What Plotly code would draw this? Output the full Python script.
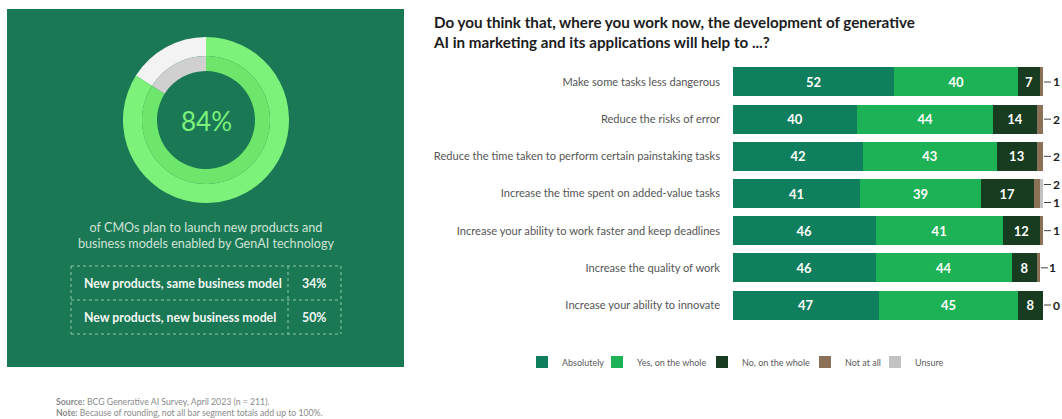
import plotly.graph_objects as go

W, H = 1062, 419

# ---------------- data ----------------
categories = [
    "Make some tasks less dangerous",
    "Reduce the risks of error",
    "Reduce the time taken to perform certain painstaking tasks",
    "Increase the time spent on added-value tasks",
    "Increase your ability to work faster and keep deadlines",
    "Increase the quality of work",
    "Increase your ability to innovate",
]
absolutely = [52, 40, 42, 41, 46, 46, 47]
yes_whole = [40, 44, 43, 39, 41, 44, 45]
no_whole = [7, 14, 13, 17, 12, 8, 8]
not_at_all = [1, 2, 2, 2, 1, 1, 0]
unsure = [0, 0, 0, 1, 0, 0, 0]
series_names = ["Absolutely", "Yes, on the whole", "No, on the whole", "Not at all", "Unsure"]
series_colors = ["#0f7f5d", "#1eb257", "#173c20", "#8a7157", "#c2c2c2"]

donut_values = [84, 16]
donut_headline = "84%"
donut_caption = "of CMOs plan to launch new products and<br>business models enabled by GenAI technology"
table_labels = ["New products, same business model", "New products, new business model"]
table_values = ["34%", "50%"]

title_text = ("Do you think that, where you work now, the development of generative<br>"
              "AI in marketing and its applications will help to ...?")
source_text = ("<b>Source:</b> BCG Generative AI Survey, April 2023 (n = 211).<br>"
               "<b>Note:</b> Because of rounding, not all bar segment totals add up to 100%.")

FONT = "Lato"


def px(x):
    return x / W


def py(y):
    return 1 - y / H


fig = go.Figure()

# ---------------- stacked bars ----------------
legend_ids = ["legend", "legend2", "legend3", "legend4", "legend5"]
legend_symbol_x = [537, 612, 717, 820, 890]
series = [absolutely, yes_whole, no_whole, not_at_all, unsure]
for i, (name, vals, col) in enumerate(zip(series_names, series, series_colors)):
    show_text = i < 3
    fig.add_trace(go.Bar(
        name=name, y=categories, x=vals, orientation="h",
        marker=dict(color=col, line=dict(width=0)),
        width=0.78,
        text=[str(v) for v in vals] if show_text else None,
        textposition="inside" if show_text else "none",
        insidetextanchor="middle",
        textangle=0,
        constraintext="none",
        textfont=dict(family=FONT, size=13, color="white", weight="bold"),
        hoverinfo="skip",
        legend=legend_ids[i],
    ))

# ---------------- donut ----------------
cx, cy, r_out, r_mid, r_in = 206, 120, 83, 64, 49
fig.add_trace(go.Pie(
    values=donut_values, sort=False, direction="clockwise", rotation=0,
    hole=r_mid / r_out, textinfo="none", hoverinfo="skip", showlegend=False,
    marker=dict(colors=["#7cf27a", "#f3f3f3"], line=dict(width=0)),
    domain=dict(x=[px(cx - r_out), px(cx + r_out)], y=[py(cy + r_out), py(cy - r_out)]),
))
fig.add_trace(go.Pie(
    values=donut_values, sort=False, direction="clockwise", rotation=0,
    hole=r_in / r_mid, textinfo="none", hoverinfo="skip", showlegend=False,
    marker=dict(colors=["#6ee66b", "#d0d0d0"], line=dict(width=0)),
    domain=dict(x=[px(cx - r_mid), px(cx + r_mid)], y=[py(cy + r_mid), py(cy - r_mid)]),
))

shapes = []
annotations = []

# left panel background
shapes.append(dict(type="rect", xref="paper", yref="paper", x0=px(7), x1=px(404),
                   y0=py(367), y1=py(9), fillcolor="#1a7855", line=dict(width=0), layer="below"))

annotations.append(dict(xref="paper", yref="paper", x=px(cx), y=py(cy + 1), text=donut_headline,
                        showarrow=False, font=dict(family=FONT, size=26, color="#7cf27a"),
                        xanchor="center", yanchor="middle"))
annotations.append(dict(xref="paper", yref="paper", x=px(206), y=py(235), text=donut_caption,
                        showarrow=False, font=dict(family=FONT, size=12.6, color="#cfe3d7"),
                        xanchor="center", yanchor="middle", align="center"))

# table with dotted borders
tl, tr, tt, tb, tdiv, tmid = 71, 341, 266, 334, 288, 300
dot = dict(color="#8fcaa8", width=1, dash="dot")
for (x0, y0, x1, y1) in [(tl, tt, tr, tt), (tl, tmid, tr, tmid), (tl, tb, tr, tb),
                         (tl, tt, tl, tb), (tr, tt, tr, tb), (tdiv, tt, tdiv, tb)]:
    shapes.append(dict(type="line", xref="paper", yref="paper", x0=px(x0), x1=px(x1),
                       y0=py(y0), y1=py(y1), line=dot))
row_y = [283, 317]
for lab, val, yy in zip(table_labels, table_values, row_y):
    annotations.append(dict(xref="paper", yref="paper", x=px(82), y=py(yy), text=f"<b>{lab}</b>",
                            showarrow=False, font=dict(family=FONT, size=12.3, color="#f2f7f4"),
                            xanchor="left", yanchor="middle"))
    annotations.append(dict(xref="paper", yref="paper", x=px(314), y=py(yy), text=f"<b>{val}</b>",
                            showarrow=False, font=dict(family=FONT, size=12.3, color="#f2f7f4"),
                            xanchor="center", yanchor="middle"))

# title
annotations.append(dict(xref="paper", yref="paper", x=px(431), y=py(11), text=f"<b>{title_text}</b>",
                        showarrow=False, font=dict(family=FONT, size=15.2, color="#1c1c1c"),
                        xanchor="left", yanchor="top", align="left"))

# source
annotations.append(dict(xref="paper", yref="paper", x=px(54), y=py(407), text=source_text,
                        showarrow=False, font=dict(family=FONT, size=8.7, color="#8a8a8a"),
                        xanchor="left", yanchor="middle", align="left"))

# right-side small value labels
for k, cat in enumerate(categories):
    n, u = not_at_all[k], unsure[k]
    tot = absolutely[k] + yes_whole[k] + no_whole[k] + n + u
    pairs = [(n, 9), (u, -9)] if u > 0 else [(n, 0)]
    for v, ys in pairs:
        annotations.append(dict(xref="x", yref="y", x=tot, y=cat, text=f"<b>{v}</b>",
                                showarrow=True, arrowhead=0, arrowwidth=1, arrowcolor="#444",
                                ax=13, ay=0, yshift=ys, standoff=1,
                                font=dict(family=FONT, size=12, color="#1c1c1c")))

legend_style = dict(orientation="h", yanchor="middle", y=py(362), xanchor="left",
                    font=dict(family=FONT, size=9, color="#5a5a5a"), itemwidth=30,
                    bgcolor="rgba(0,0,0,0)", borderwidth=0)
legends = {}
for lid, sx in zip(legend_ids, legend_symbol_x):
    legends[lid] = dict(legend_style, x=px(sx - 15))

fig.update_layout(
    width=W, height=H,
    margin=dict(l=0, r=0, t=0, b=0),
    paper_bgcolor="white", plot_bgcolor="rgba(0,0,0,0)",
    barmode="stack",
    font=dict(family=FONT),
    shapes=shapes, annotations=annotations,
    xaxis=dict(domain=[px(733), px(1043)], range=[0, 100], visible=False, fixedrange=True),
    yaxis=dict(domain=[py(323.6), py(63.4)], type="category", categoryorder="array",
               categoryarray=categories, autorange="reversed", showgrid=False, zeroline=False,
               showline=False, ticks="", ticklabelstandoff=12, automargin=False,
               tickfont=dict(family=FONT, size=11.1, color="#555555")),
    showlegend=True,
    **legends,
)

fig.write_html("out.html")
